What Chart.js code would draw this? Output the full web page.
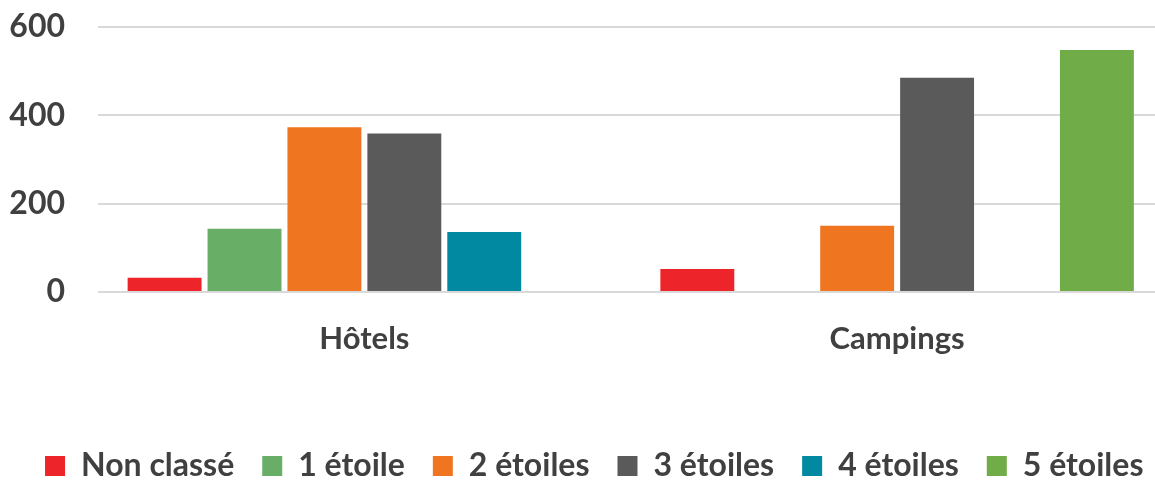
<!DOCTYPE html>
<html>
<head>
<meta charset="utf-8">
<script src="https://cdn.jsdelivr.net/npm/chart.js@4"></script>
<style>
  html,body{margin:0;padding:0;background:#fff;overflow:hidden}
  .wrap{width:1165px;height:483px;position:relative}
</style>
</head>
<body>
<div class="wrap"><canvas id="chart" width="1165" height="483"></canvas></div>
<script>
// data
const categories = ['Hôtels', 'Campings'];
const seriesNames = ['Non classé', '1 étoile', '2 étoiles', '3 étoiles', '4 étoiles', '5 étoiles'];
const nonClasse = [32, 52];
const uneEtoile = [143, 0];
const deuxEtoiles = [373, 150];
const troisEtoiles = [359, 485];
const quatreEtoiles = [136, 0];
const cinqEtoiles = [0, 548];
const yTicks = [0, 200, 400, 600];

const colors = ['#ED252A', '#69AE66', '#EF7521', '#5A5A5A', '#0089A1', '#70AC47'];
const values = [nonClasse, uneEtoile, deuxEtoiles, troisEtoiles, quatreEtoiles, cinqEtoiles];

const FONT = 'Lato, "Liberation Sans", sans-serif';
const TXT = '#404040';

Chart.defaults.animation = false;

// nudge the legend a bit right, like the original
const legendShift = {
  id: 'legendShift',
  afterLayout(chart) {
    const lg = chart.legend;
    if (!lg) return;
    lg.left += 9; lg.right += 9;
  }
};

new Chart(document.getElementById('chart').getContext('2d'), {
  type: 'bar',
  data: {
    labels: categories,
    datasets: seriesNames.map((name, i) => ({
      label: name,
      data: values[i],
      backgroundColor: colors[i],
      borderWidth: 0,
      categoryPercentage: 0.9,
      barPercentage: 0.925
    }))
  },
  options: {
    responsive: false,
    maintainAspectRatio: false,
    layout: {padding: {left: 7, right: 1.5, top: 27, bottom: -9}},
    plugins: {
      tooltip: {enabled: false},
      legend: {
        position: 'bottom',
        labels: {
          boxWidth: 20, boxHeight: 20, padding: 28,
          color: TXT,
          font: {family: FONT, size: 32, weight: 'bold'}
        }
      }
    },
    scales: {
      x: {
        grid: {display: false},
        border: {display: false},
        afterFit: ax => { ax.height = 130; },
        ticks: {color: TXT, padding: 20, font: {family: FONT, size: 31, weight: 'bold'}}
      },
      y: {
        min: 0, max: 600,
        afterBuildTicks: ax => { ax.ticks = yTicks.map(v => ({value: v})); },
        afterFit: ax => { ax.width = 91; ax.paddingTop = 0; ax.paddingBottom = 0; },
        grid: {color: '#D9D9D9', lineWidth: 2, drawTicks: false},
        border: {display: false},
        ticks: {color: TXT, padding: 33, font: {family: FONT, size: 32, weight: 'bold'}}
      }
    }
  },
  plugins: [legendShift]
});
</script>
</body>
</html>
